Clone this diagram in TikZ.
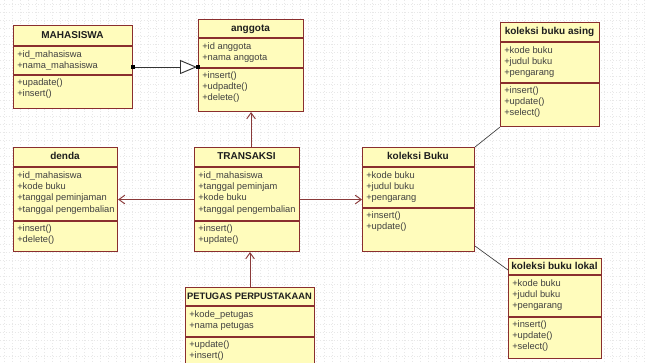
\documentclass[tikz,border=0pt]{standalone}
\usepackage{fontspec}
\setmainfont{Liberation Sans}
\usetikzlibrary{arrows.meta,calc}
\definecolor{clsfill}{HTML}{FFFCBC}
\definecolor{clsline}{HTML}{8A2E2E}
\definecolor{connline}{HTML}{8A3A3A}
\definecolor{txt}{HTML}{1E1E1E}
\tikzset{
  classbox/.style={draw=clsline, fill=clsfill, line width=0.8pt, inner sep=0pt, anchor=north west},
  sepline/.style={draw=clsline, line width=0.8pt},
  clstitle/.style={font=\fontsize{7.5}{9}\bfseries\selectfont, text=txt, inner sep=0pt, text height=5.4pt, text depth=1.6pt},
  clstext/.style={font=\fontsize{7}{8.4}\selectfont, text=txt!85, align=left, anchor=north west, inner sep=0pt},
  gridline/.style={draw=black!9, line width=0.4pt, dash pattern=on 0.6pt off 1.6pt},
  conn/.style={draw=connline, line width=0.8pt},
  thinconn/.style={draw=black!75, line width=0.5pt},
  openhead/.style={-{Straight Barb[length=4.5pt,width=6.5pt,line width=0.7pt]}},
  genhead/.style={-{Triangle[open,length=12.75pt,width=10.5pt,fill=white,line width=0.7pt]}},
  sqmark/.style={fill=black, draw=none, minimum size=3.2pt, inner sep=0pt}
}
\newcommand{\umlclass}[9]{%
  \node[classbox, minimum width={(#4-#2)*0.75pt}, minimum height={(#5-#3)*0.75pt}] (#1) at (#2,#3) {};
  \draw[sepline] (#2,#6) -- (#4,#6);
  \draw[sepline] (#2,#7) -- (#4,#7);
  \node[clstitle] (#1-title) at ({(#2+#4)/2},{(#3+#6)/2}) {#8};
  \node[clstext] (#1-attrs) at ({#2+4},{#6+4.5}) {#9};
  \coordinate (#1-ops) at ({#2+4},{#7+3});
}
\newcommand{\umlops}[2]{\node[clstext] (#1-opstext) at (#1-ops) {#2};}
\begin{document}
\begin{tikzpicture}[x=0.75pt,y=-0.75pt]
  \useasboundingbox (0,0) rectangle (645,363);
  \clip (0,0) rectangle (645,363);
  \fill[white] (0,0) rectangle (645,363);
  \foreach \i in {4,12,...,645} \draw[gridline] (\i,0) -- (\i,363);
  \foreach \j in {4,12,...,363} \draw[gridline] (0,\j) -- (645,\j);

  \umlclass{maha}{13}{25}{132}{108}{46}{75}{MAHASISWA}{+id\_mahasiswa\\+nama\_mahasiswa}
  \umlops{maha}{+upadate()\\+insert()}

  \umlclass{anggota}{198}{19}{303}{111}{38}{68}{anggota}{+id anggota\\+nama anggota}
  \umlops{anggota}{+insert()\\+udpadte()\\+delete()}

  \umlclass{asing}{500}{22}{599}{126}{42}{83}{koleksi buku asing}{+kode buku\\+judul buku\\+pengarang}
  \umlops{asing}{+insert()\\+update()\\+select()}

  \umlclass{denda}{13}{147}{117}{251}{167}{221}{denda}{+id\_mahasiswa\\+kode buku\\+tanggal peminjaman\\+tanggal pengembalian}
  \umlops{denda}{+insert()\\+delete()}

  \umlclass{trans}{194}{147}{299}{251}{167}{221}{TRANSAKSI}{+id\_mahasiswa\\+tanggal peminjam\\+kode buku\\+tanggal pengembalian}
  \umlops{trans}{+insert()\\+update()}

  \umlclass{buku}{362}{147}{474}{251}{167}{208}{koleksi Buku}{+kode buku\\+judul buku\\+pengarang}
  \umlops{buku}{+insert()\\+update()}

  \umlclass{lokal}{508}{258}{601}{358}{275}{317}{koleksi buku lokal}{+kode buku\\+judul buku\\+pengarang}
  \umlops{lokal}{+insert()\\+update()\\+select()}

  \umlclass{petugas}{185}{287}{314}{372}{306}{337}{\fontsize{7}{9}\selectfont PETUGAS PERPUSTAKAAN}{+kode\_petugas\\+nama petugas}
  \umlops{petugas}{+update()\\+insert()}

  % connectors
  \draw[draw=black!80, line width=0.7pt, genhead] (maha.east) -- ($(maha.east -| anggota.west)+(-1,0)$);
  \node[sqmark] (sqa) at (maha.east) {};
  \node[sqmark] (sqb) at (maha.east -| anggota.west) {};

  \draw[conn, openhead] (trans.north -| anggota.south) -- (anggota.south);
  \draw[conn, openhead] (trans.west) -- (trans.west -| denda.east);
  \draw[conn, openhead] (trans.east) -- (trans.east -| buku.west);
  \draw[conn, openhead] (petugas.north) -- (petugas.north |- trans.south);

  \draw[thinconn] (buku.north east) -- (asing.south west);
  \draw[thinconn] ([yshift=4.5pt]buku.south east) -- ([yshift=-9pt]lokal.north west);
\end{tikzpicture}
\end{document}
